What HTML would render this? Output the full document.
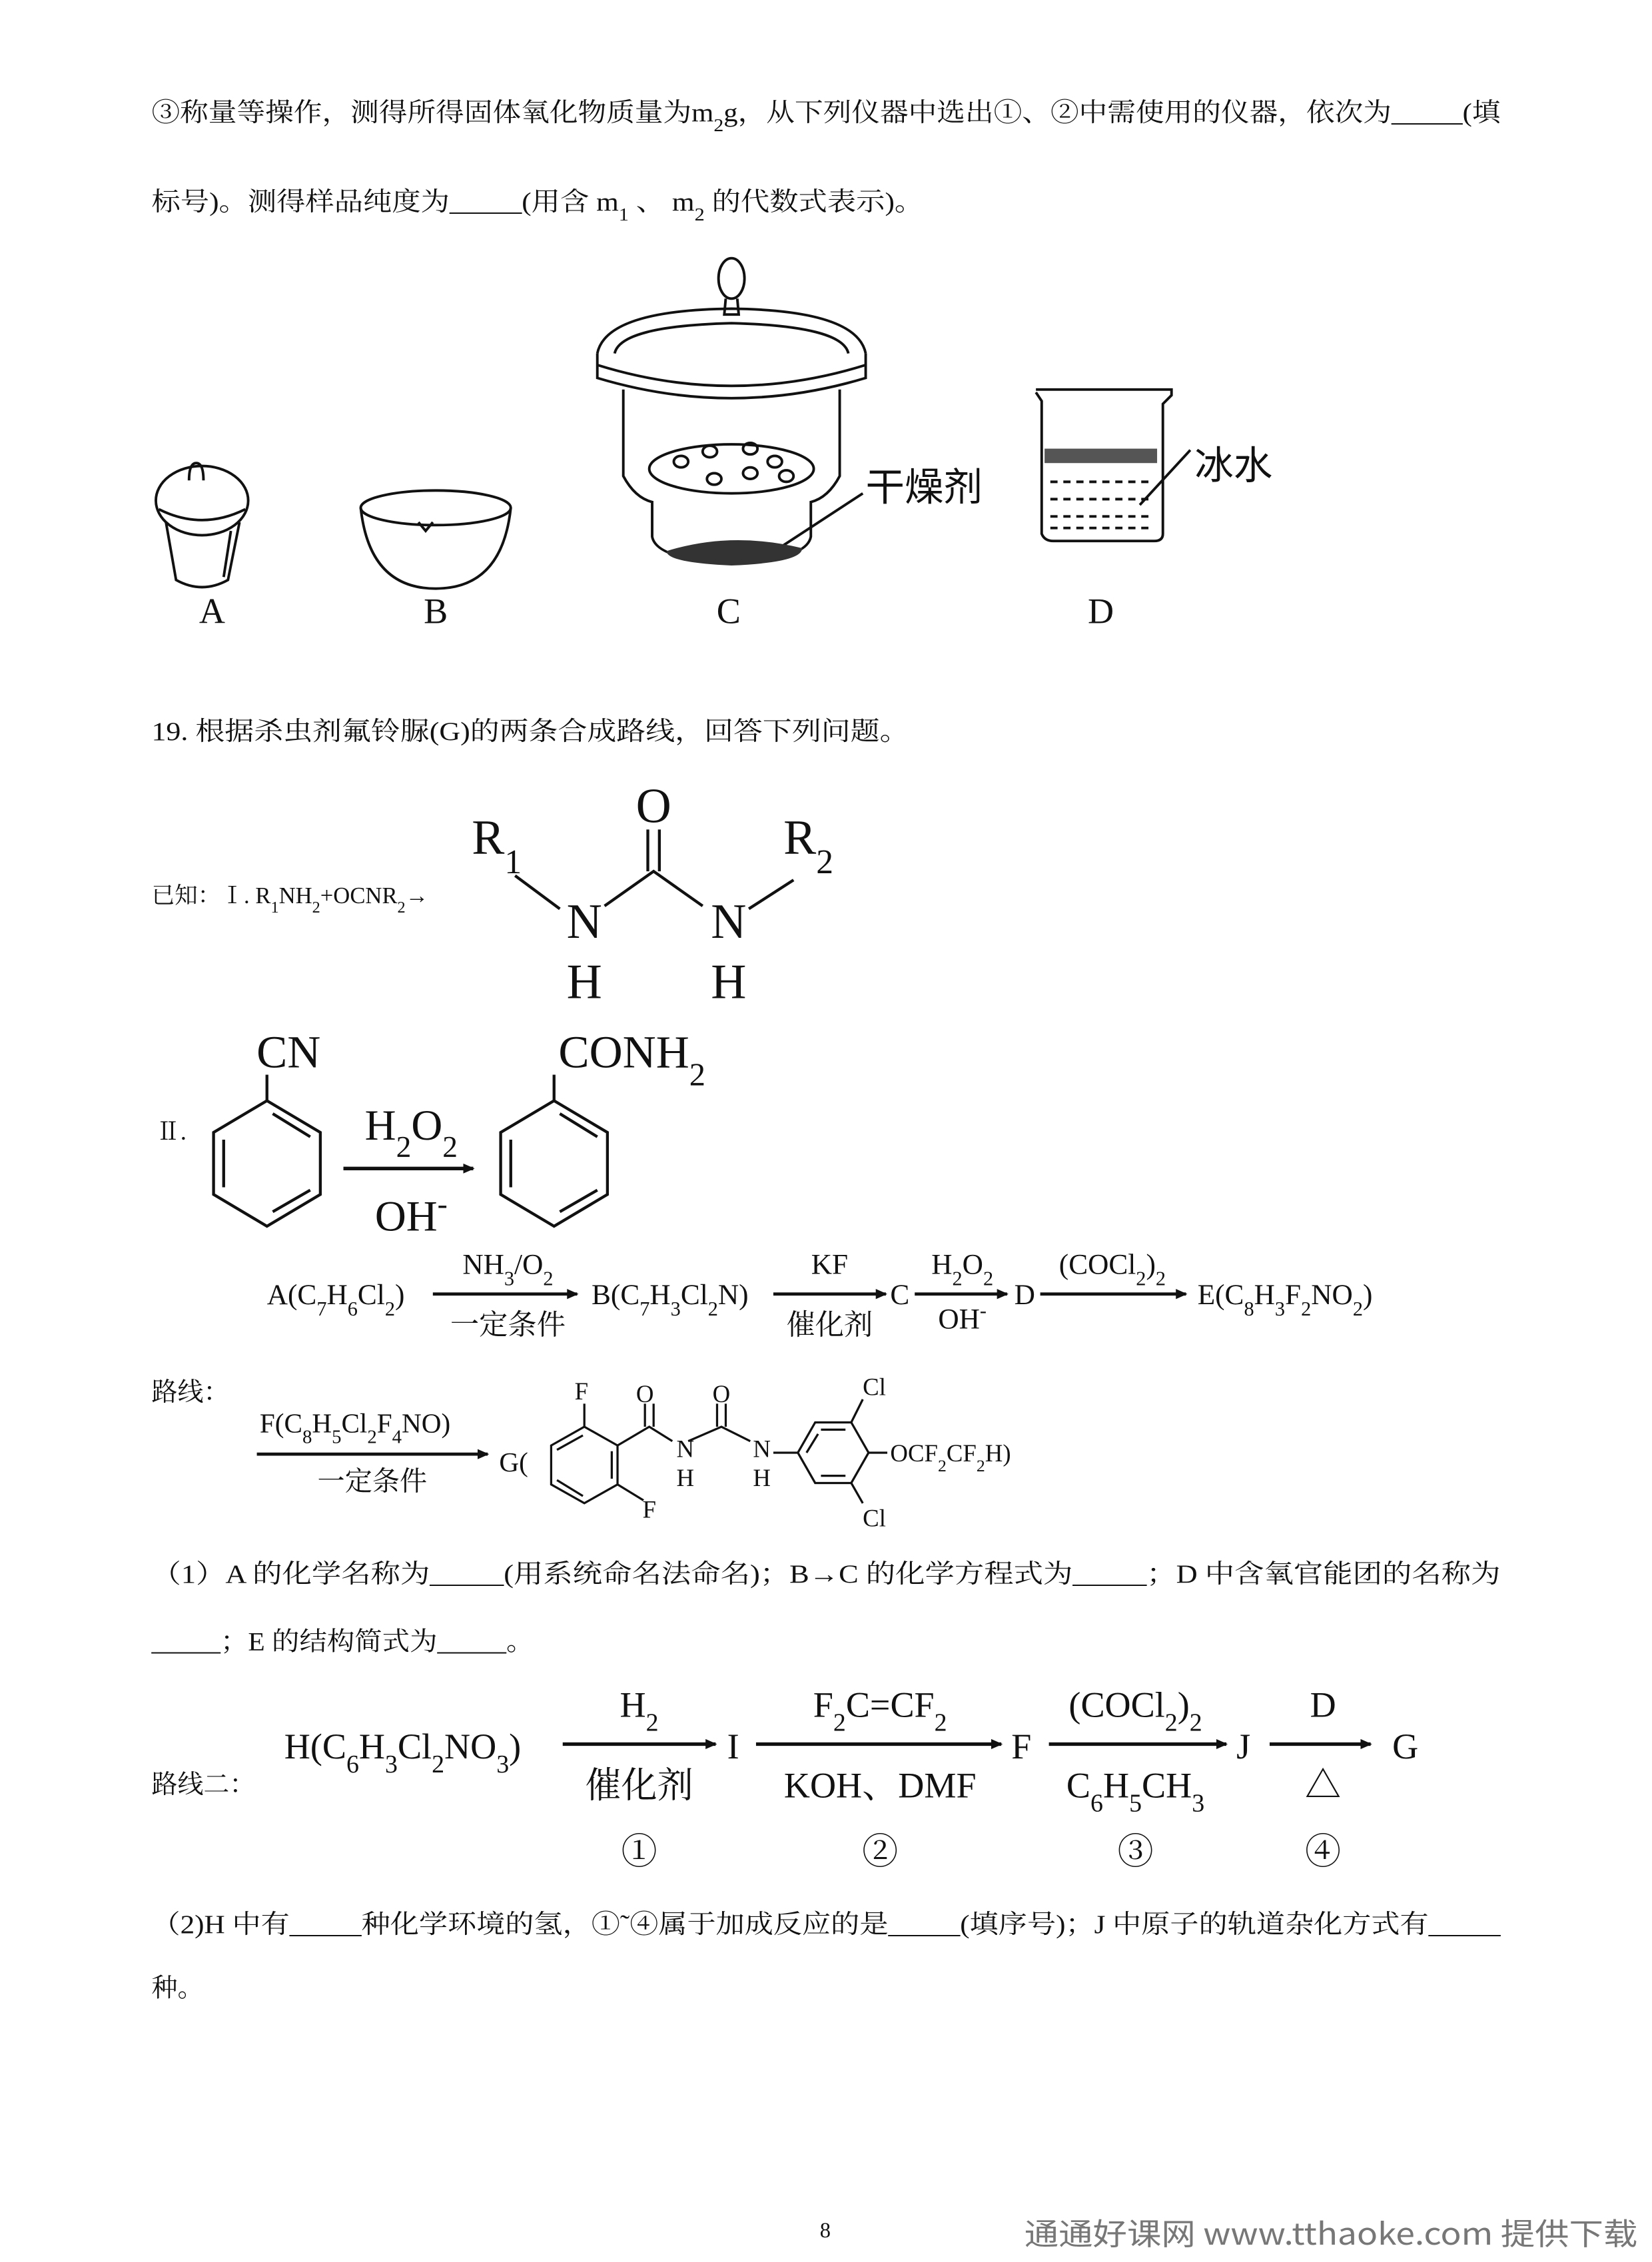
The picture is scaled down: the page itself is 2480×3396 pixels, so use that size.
<!DOCTYPE html>
<html><head><meta charset="utf-8"><style>
html,body{margin:0;padding:0;background:#fff}
svg{display:block}
text{font-family:"Liberation Serif","Noto Serif CJK SC",serif;fill:#111}
.t{font-size:18px}
.s{font-size:70%;baseline-shift:sub}
.u{font-size:70%;baseline-shift:super}
.c{font-size:21px}
.m{text-anchor:middle}
</style></head><body>
<svg width="2480" height="3396" viewBox="0 0 1145 1568" xmlns="http://www.w3.org/2000/svg">
<defs><marker id="ah" markerWidth="8" markerHeight="8" refX="7" refY="4" orient="auto" markerUnits="userSpaceOnUse"><path d="M0,0.5 L8,4 L0,7.5 Z" fill="#111"/></marker></defs>

<text class="t" x="105" y="84" textLength="935" lengthAdjust="spacingAndGlyphs">③称量等操作，测得所得固体氧化物质量为m<tspan class="s">2</tspan>g，从下列仪器中选出①、②中需使用的仪器，依次为_____(填</text>
<text class="t" x="105" y="146" textLength="535" lengthAdjust="spacingAndGlyphs">标号)。测得样品纯度为_____(用含 m<tspan class="s">1</tspan> 、 m<tspan class="s">2</tspan> 的代数式表示)。</text>

<!-- A crucible -->
<g fill="none" stroke="#111" stroke-width="1.8">
<ellipse cx="140" cy="347" rx="32" ry="24"/>
<path d="M110,353 Q140,368 170,353"/>
<path d="M131,333 q0,-12 5,-12 q5,0 5,12" />
<path d="M115,362 L122,402 Q140,412 158,402 L166,362"/>
<path d="M160,368 L155,400"/>
<!-- B evaporating dish -->
<ellipse cx="302" cy="352" rx="52" ry="12"/>
<path d="M250,352 Q256,408 302,408 Q348,408 354,352"/>
<path d="M290,362 l5,6 l5,-6"/>
<!-- C desiccator -->
<ellipse cx="507" cy="193" rx="9" ry="14"/>
<path d="M503,207 L502,218 L512,218 L511,207"/>
<path d="M414,245 Q420,215 507,214 Q594,215 600,245"/>
<path d="M414,245 L414,262 Q507,290 600,262 L600,245"/>
<path d="M414,253 Q507,282 600,253"/>
<path d="M426,245 Q430,226 507,224 Q584,226 588,245"/>
<path d="M432,270 L432,330 Q440,345 452,348 L452,372 Q455,388 507,390 Q559,388 562,372 L562,348 Q574,345 582,330 L582,270"/>
<ellipse cx="507" cy="325" rx="57" ry="17"/>
<ellipse cx="472" cy="320" rx="5" ry="4"/><ellipse cx="492" cy="313" rx="5" ry="4"/><ellipse cx="520" cy="311" rx="5" ry="4"/><ellipse cx="537" cy="320" rx="5" ry="4"/><ellipse cx="495" cy="332" rx="5" ry="4"/><ellipse cx="520" cy="328" rx="5" ry="4"/><ellipse cx="545" cy="330" rx="5" ry="4"/>
<path d="M543,378 L598,342"/>
</g>
<path d="M462,382 Q507,368 556,380 Q556,390 507,392 Q462,390 462,382Z" fill="#333"/>
<text x="600" y="347" font-size="27" style="font-family:'Noto Sans CJK SC',sans-serif">干燥剂</text>
<!-- D beaker -->
<g fill="none" stroke="#111" stroke-width="1.8">
<path d="M718,272 L722,278 L722,370 Q724,375 730,375 L800,375 Q806,375 806,370 L806,280 L812,274 L812,270 L718,270"/>
<path d="M728,334 H800 M728,346 H800 M728,358 H800 M728,366 H800" stroke-dasharray="5,4"/>
<path d="M790,350 L825,312"/>
</g>
<rect x="724" y="311" width="78" height="10" fill="#555"/>
<text x="828" y="332" font-size="27" style="font-family:'Noto Sans CJK SC',sans-serif">冰水</text>
<text x="147" y="432" font-size="25" class="m">A</text>
<text x="302" y="432" font-size="25" class="m">B</text>
<text x="505" y="432" font-size="25" class="m">C</text>
<text x="763" y="432" font-size="25" class="m">D</text>

<text class="t" x="105" y="513" textLength="525" lengthAdjust="spacingAndGlyphs">19.  根据杀虫剂氟铃脲(G)的两条合成路线，回答下列问题。</text>

<!-- known I -->
<text x="105" y="626" font-size="16">已知：Ⅰ. R<tspan class="s">1</tspan>NH<tspan class="s">2</tspan>+OCNR<tspan class="s">2</tspan>→</text>
<g font-size="34">
<text x="327" y="592">R<tspan class="s">1</tspan></text>
<text x="453" y="570" class="m">O</text>
<text x="543" y="592">R<tspan class="s">2</tspan></text>
<text x="405" y="650" class="m">N</text>
<text x="505" y="650" class="m">N</text>
<text x="405" y="692" class="m">H</text>
<text x="505" y="692" class="m">H</text>
</g>
<g stroke="#111" stroke-width="2" fill="none">
<path d="M357,607 L388,630"/><path d="M419,628 L453,604 L487,628"/><path d="M519,630 L550,610"/>
<path d="M449,604 V575 M457,604 V575"/>
</g>
<!-- II -->
<text x="108" y="790" font-size="17">Ⅱ.</text>
<text x="200" y="740" font-size="32" class="m">CN</text>
<text x="438" y="740" font-size="32" class="m">CONH<tspan class="s">2</tspan></text>
<g stroke="#111" stroke-width="2" fill="none">
<path d="M185,745 V763 M384,745 V763"/>
<path d="M185,763 L222,785 L222,828 L185,850 L148,828 L148,785 Z"/>
<path d="M189,772 L215,788 M215,825 L189,840 M155,790 V823"/>
<path d="M384,763 L421,785 L421,828 L384,850 L347,828 L347,785 Z"/>
<path d="M388,772 L414,788 M414,825 L388,840 M354,790 V823"/>
<path d="M238,810 H328" marker-end="url(#ah)" stroke-width="2.5"/>
</g>
<text x="285" y="790" font-size="30" class="m">H<tspan class="s">2</tspan>O<tspan class="s">2</tspan></text>
<text x="285" y="853" font-size="30" class="m">OH<tspan class="u">-</tspan></text>

<!-- route 1 -->
<g font-size="20">
<text x="185" y="904">A(C<tspan class="s">7</tspan>H<tspan class="s">6</tspan>Cl<tspan class="s">2</tspan>)</text>
<text x="352" y="883" class="m">NH<tspan class="s">3</tspan>/O<tspan class="s">2</tspan></text>
<text x="352" y="925" class="m">一定条件</text>
<text x="410" y="904">B(C<tspan class="s">7</tspan>H<tspan class="s">3</tspan>Cl<tspan class="s">2</tspan>N)</text>
<text x="575" y="883" class="m">KF</text>
<text x="575" y="925" class="m">催化剂</text>
<text x="617" y="904">C</text>
<text x="667" y="883" class="m">H<tspan class="s">2</tspan>O<tspan class="s">2</tspan></text>
<text x="667" y="921" class="m">OH<tspan class="u">-</tspan></text>
<text x="703" y="904">D</text>
<text x="771" y="883" class="m">(COCl<tspan class="s">2</tspan>)<tspan class="s">2</tspan></text>
<text x="830" y="904">E(C<tspan class="s">8</tspan>H<tspan class="s">3</tspan>F<tspan class="s">2</tspan>NO<tspan class="s">2</tspan>)</text>
</g>
<g stroke="#111" stroke-width="2.2" fill="none">
<path d="M300,897 H400" marker-end="url(#ah)"/>
<path d="M536,897 H614" marker-end="url(#ah)"/>
<path d="M634,897 H698" marker-end="url(#ah)"/>
<path d="M721,897 H822" marker-end="url(#ah)"/>
<path d="M178,1008 H338" marker-end="url(#ah)"/>
</g>
<text class="t" x="105" y="971">路线：</text>
<text x="180" y="993" font-size="19">F(C<tspan class="s">8</tspan>H<tspan class="s">5</tspan>Cl<tspan class="s">2</tspan>F<tspan class="s">4</tspan>NO)</text>
<text x="258" y="1033" font-size="19" class="m">一定条件</text>
<text x="346" y="1020" font-size="19">G(</text>
<!-- G structure -->
<g stroke="#111" stroke-width="1.5" fill="none">
<path d="M405,989 L428,1002 L428,1029 L405,1042 L382,1029 L382,1002 Z"/>
<path d="M404,995 L386,1005 M386,1026 L404,1037 M424,1006 V1025"/>
<path d="M405,989 V973 M428,1029 L446,1040"/>
<path d="M428,1002 L450,989 L466,999 M477,999 L500,989 L520,999 M536,1007 L553,1007"/>
<path d="M447,989 V973 M453,989 V973 M497,989 V973 M503,989 V973"/>
<path d="M553,1007 L565,986 L590,986 L602,1007 L590,1028 L565,1028 Z"/>
<path d="M569,991 H586 M569,1023 H586 M559,1007 L567,994"/>
<path d="M590,986 L598,970 M590,1028 L598,1042 M602,1007 H615"/>
</g>
<g font-size="17">
<text x="403" y="970" class="m">F</text>
<text x="450" y="1052" class="m">F</text>
<text x="447" y="972" class="m">O</text>
<text x="500" y="972" class="m">O</text>
<text x="475" y="1010" class="m">N</text>
<text x="475" y="1030" class="m">H</text>
<text x="528" y="1010" class="m">N</text>
<text x="528" y="1030" class="m">H</text>
<text x="606" y="967" class="m">Cl</text>
<text x="606" y="1058" class="m">Cl</text>
<text x="617" y="1013">OCF<tspan class="s">2</tspan>CF<tspan class="s">2</tspan>H)</text>
</g>

<text class="t" x="105" y="1097" textLength="935" lengthAdjust="spacingAndGlyphs">（1）A 的化学名称为_____(用系统命名法命名)；B→C 的化学方程式为_____；D 中含氧官能团的名称为</text>
<text class="t" x="105" y="1144" textLength="265" lengthAdjust="spacingAndGlyphs">_____；E 的结构简式为_____。</text>

<!-- route 2 -->
<text class="t" x="105" y="1243">路线二：</text>
<g font-size="25">
<text x="197" y="1219">H(C<tspan class="s">6</tspan>H<tspan class="s">3</tspan>Cl<tspan class="s">2</tspan>NO<tspan class="s">3</tspan>)</text>
<text x="443" y="1190" class="m">H<tspan class="s">2</tspan></text>
<text x="443" y="1246" class="m">催化剂</text>
<text x="504" y="1219">I</text>
<text x="610" y="1190" class="m">F<tspan class="s">2</tspan>C=CF<tspan class="s">2</tspan></text>
<text x="610" y="1246" class="m">KOH、DMF</text>
<text x="701" y="1219">F</text>
<text x="787" y="1190" class="m">(COCl<tspan class="s">2</tspan>)<tspan class="s">2</tspan></text>
<text x="787" y="1246" class="m">C<tspan class="s">6</tspan>H<tspan class="s">5</tspan>CH<tspan class="s">3</tspan></text>
<text x="857" y="1219">J</text>
<text x="917" y="1190" class="m">D</text>
<text x="917" y="1246" class="m">△</text>
<text x="965" y="1219">G</text>
<text x="443" y="1292" class="m">①</text>
<text x="610" y="1292" class="m">②</text>
<text x="787" y="1292" class="m">③</text>
<text x="917" y="1292" class="m">④</text>
</g>
<g stroke="#111" stroke-width="2.4" fill="none">
<path d="M390,1209 H496" marker-end="url(#ah)"/>
<path d="M524,1209 H694" marker-end="url(#ah)"/>
<path d="M727,1209 H850" marker-end="url(#ah)"/>
<path d="M880,1209 H950" marker-end="url(#ah)"/>
</g>

<text class="t" x="105" y="1340" textLength="935" lengthAdjust="spacingAndGlyphs">（2)H 中有_____种化学环境的氢，①˜④属于加成反应的是_____(填序号)；J 中原子的轨道杂化方式有_____</text>
<text class="t" x="105" y="1384">种。</text>

<text x="572" y="1551" font-size="15" class="m">8</text>
<text x="710" y="1556" font-size="21" fill="#777" style="fill:#777;font-family:'Noto Sans CJK SC',sans-serif" textLength="425" lengthAdjust="spacingAndGlyphs">通通好课网 www.tthaoke.com 提供下载</text>
</svg>
</body></html>
